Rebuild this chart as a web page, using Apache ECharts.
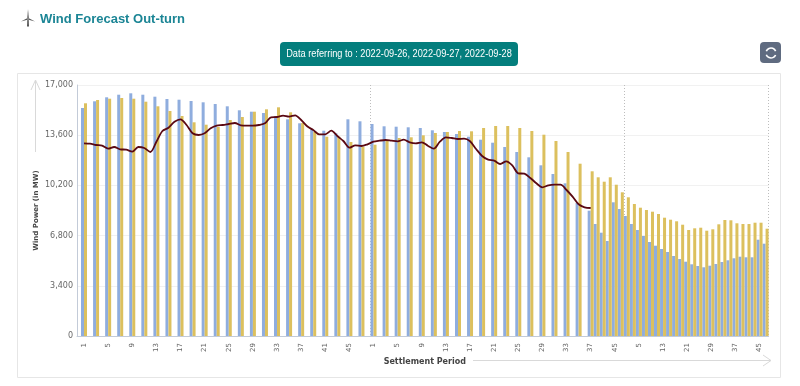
<!DOCTYPE html>
<html><head><meta charset="utf-8">
<style>html,body{margin:0;padding:0;background:#fff}#c{width:800px;height:386px}</style>
<script src="https://cdn.jsdelivr.net/npm/echarts@6/dist/echarts.min.js"></script>
</head><body><div id="c"></div>
<script>
const dates = ['2022-09-26','2022-09-27','2022-09-28'];
const yTicks = ['0','3,400','6,800','10,200','13,600','17,000'];
// periods on the category axis
const day1Periods = Array.from({length:48},(_,i)=>String(i+1));
const day2Periods = Array.from({length:36},(_,i)=>String(i+1)).concat(['37','39','41','43','45','47']);
const day3Periods = Array.from({length:24},(_,i)=>String(2*i+1));
const categories = day1Periods.concat(day2Periods, day3Periods);
// half-hourly readings shown every second slot up to period 35 of day 2
const actualSparse = [15442,15896,16167,16343,16438,16343,16208,16052,16004,15917,15828,15713,15557,15287,15192,15104,14900,14677,14406,13986,13905,13729,14677,14542,14359,14203,14176,14135,14088,13932,13817,13681,13499,13295,13092,12801,12462,12103,11561,10972,10342,9008];
const actualDense = [8487,7586,6996,6434,9055,8602,8128,7586,7179,6773,6367,6116,5893,5689,5418,5215,5032,4856,4741,4653,4761,4877,5012,5127,5263,5371,5330,5330,6522,6252];
const forecastSparse = [15761,15984,16072,16120,16072,15869,15557,15239,14901,14474,14311,14156,14630,14833,15192,15354,15490,15151,14426,13837,13499,13499,13140,12821,12957,13228,13411,13458,13593,13749,13817,13885,13864,14088,14223,14223,14088,13885,13634,13207,12462,11670];
const forecastDense = [11155,10749,10451,10749,10247,9733,9394,8940,8690,8534,8419,8263,8013,7877,7769,7538,7179,7294,7335,7132,7227,7565,7857,7836,7633,7586,7586,7674,7674,7267];
const outturn = [13052,13025,12936,12889,12686,12801,12645,12618,12483,12801,12733,12462,13160,13885,14108,14515,14677,14291,13729,13614,13729,14067,14243,14291,14359,14426,14271,14243,14243,14291,14406,14813,14833,14921,14853,14948,14630,14203,13952,13661,13661,13905,13546,13207,12754,12916,12869,12984,13160,13228,13275,13228,13187,13295,13119,13052,13119,12889,12686,13160,13458,13411,13343,13363,13187,12666,12191,11941,11873,11650,11832,11561,11020,10993,10701,10342,10071,10207,10247,10247,9889,9435,8920,8717,8669];

function spread(sparse, dense){
  const out = [];
  sparse.forEach(v=>{out.push(v);out.push(null);});
  return out.concat(dense);
}
const dayStarts = [48,90,114];
const chart = echarts.init(document.getElementById('c'),null,{renderer:'canvas'});
const teal='#047e7d', grey='#d9d9d9';
const gL=81,gW=687.6,gT=85,gH=251;
chart.setOption({
  animation:false,
  backgroundColor:'#fff',
  grid:[
    {left:77,top:gT,width:gL+gW-77,height:gH,containLabel:false},
    {left:gL,top:gT,width:gW,height:gH,containLabel:false}
  ],
  xAxis:[
    {gridIndex:0,type:'value',min:0,max:1,axisLine:{show:true,lineStyle:{color:'#c3cbd8',width:1}},axisTick:{show:false},axisLabel:{show:false},splitLine:{show:false}},
    {gridIndex:1,type:'category',data:categories,boundaryGap:true,
      axisLine:{show:false},axisTick:{show:false},
      axisLabel:{interval:3,rotate:90,fontSize:7,color:'#666',fontFamily:'DejaVu Sans',margin:7},
      splitLine:{show:true,interval:(i)=>dayStarts.includes(i),lineStyle:{color:'#bdbdbd',type:[1,2],width:1}},
      name:'Settlement Period',nameLocation:'middle',nameMoveOverlap:false,nameGap:22,nameTextStyle:{fontSize:8,fontWeight:'bold',color:'#444',fontFamily:'DejaVu Sans'}}
  ],
  yAxis:[
    {gridIndex:0,type:'value',min:0,max:17000,interval:3400,
      axisLine:{show:true,lineStyle:{color:'#c3cbd8',width:1}},axisTick:{show:false},
      axisLabel:{fontSize:8,color:'#666',fontFamily:'DejaVu Sans',margin:4,formatter:(v)=>yTicks[Math.round(v/3400)]},
      splitLine:{show:true,lineStyle:{color:'#f1f1f1',width:1}},
      name:'Wind Power (in MW)',nameLocation:'middle',nameMoveOverlap:false,nameGap:37,nameRotate:90,nameTextStyle:{fontSize:7,fontWeight:'bold',color:'#444',fontFamily:'DejaVu Sans'}},
    {gridIndex:1,type:'value',min:0,max:17000,interval:3400,show:false}
  ],
  series:[
    {type:'bar',name:'Actual',xAxisIndex:1,yAxisIndex:1,data:spread(actualSparse,actualDense),barWidth:3,barGap:'0%',itemStyle:{color:'#8fadde'}},
    {type:'bar',name:'Forecast',xAxisIndex:1,yAxisIndex:1,data:spread(forecastSparse,forecastDense),barWidth:3,barGap:'0%',itemStyle:{color:'#dcc05e'}},
    {type:'line',name:'Out-turn',xAxisIndex:1,yAxisIndex:1,data:outturn,smooth:0.3,symbol:'none',z:5,lineStyle:{color:'#5a0812',width:1.8}}
  ],
  graphic:[
    {type:'rect',z:-10,shape:{x:17.5,y:73.5,width:763,height:304},style:{fill:'none',stroke:'#e6e6e6',lineWidth:1}},
    // title
    {type:'text',x:40,y:13,style:{text:'Wind Forecast Out-turn',fill:'#1b8595',font:'bold 13px "Liberation Sans", Arial, sans-serif'}},
    // turbine icon
    {type:'polygon',shape:{points:[[27.3,18],[28,9],[28.8,18]]},style:{fill:'#555'}},
    {type:'polygon',shape:{points:[[27.6,18],[21,21.5],[28.2,19.6]]},style:{fill:'#555'}},
    {type:'polygon',shape:{points:[[28.4,18],[35,21.5],[27.8,19.6]]},style:{fill:'#555'}},
    {type:'polygon',shape:{points:[[27.3,20],[28.7,20],[29,26.5],[27,26.5]]},style:{fill:'#555'}},
    // date badge
    {type:'rect',shape:{x:280,y:42,width:238,height:24,r:4},style:{fill:teal}},
    {type:'text',x:399,y:54,scaleX:0.92,style:{text:'Data referring to : '+dates.join(', '),fill:'#fff',align:'center',verticalAlign:'middle',font:'10px "Liberation Sans", Arial, sans-serif'}},
    // refresh button
    {type:'rect',shape:{x:760,y:42,width:21,height:21,r:4},style:{fill:'#5f6b80'}},
    {type:'arc',shape:{cx:771,cy:53,r:5,startAngle:3.5,endAngle:5.9},style:{stroke:'#fff',fill:'none',lineWidth:1.6}},
    {type:'arc',shape:{cx:771,cy:53,r:5,startAngle:0.4,endAngle:2.8},style:{stroke:'#fff',fill:'none',lineWidth:1.6}},
    // axis arrows
    {type:'polyline',shape:{points:[[35.5,152],[35.5,81]]},style:{stroke:grey,fill:'none',lineWidth:1}},
    {type:'polyline',shape:{points:[[31,90],[35.5,80],[40,90]]},style:{stroke:grey,fill:'none',lineWidth:1}},
    {type:'polyline',shape:{points:[[473,360.5],[771,360.5]]},style:{stroke:grey,fill:'none',lineWidth:1}},
    {type:'polyline',shape:{points:[[763,355],[771,360.5],[763,366]]},style:{stroke:grey,fill:'none',lineWidth:1}}
  ]
});
</script></body></html>
